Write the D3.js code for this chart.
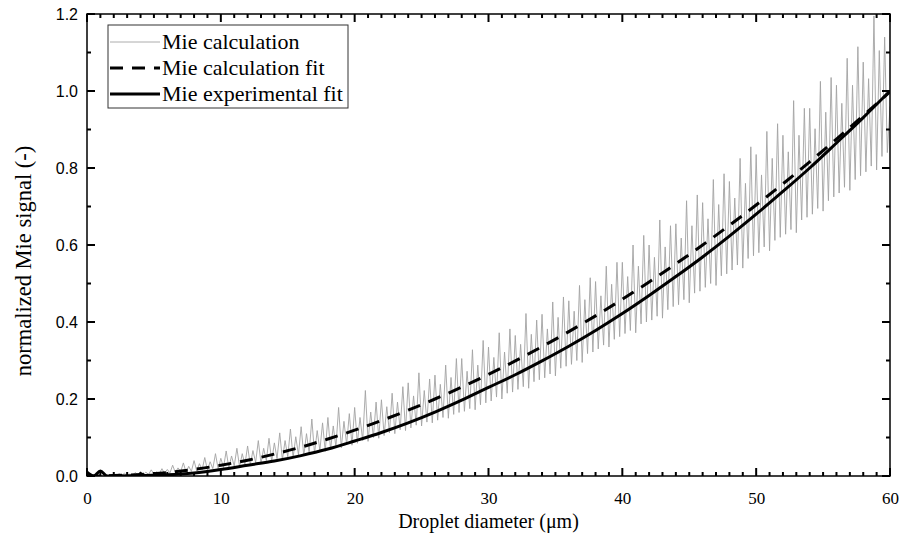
<!DOCTYPE html>
<html>
<head>
<meta charset="utf-8">
<script src="https://cdn.jsdelivr.net/npm/d3@7"></script>
<style>
  body { margin: 0; background: #fff; }
</style>
</head>
<body>
<div id="chart-area"></div>
<script>

// Mie calculation, sampled every 0.2 um from 0 to 60
var calcStep = 0.2
var mieCalc = [
  0.000, 0.002, 0.001, 0.003, 0.001, 0.002, 0.000, 0.003, 0.001, 0.002,
  0.004, 0.001, 0.006, 0.002, 0.007, 0.001, 0.005, 0.002, 0.009, 0.003,
  0.012, 0.003, 0.010, 0.004, 0.016, 0.005, 0.011, 0.006, 0.019, 0.006,
  0.017, 0.008, 0.028, 0.009, 0.021, 0.011, 0.034, 0.010, 0.025, 0.012,
  0.040, 0.013, 0.032, 0.016, 0.048, 0.015, 0.037, 0.019, 0.058, 0.018,
  0.046, 0.022, 0.065, 0.021, 0.052, 0.026, 0.072, 0.024, 0.058, 0.030,
  0.078, 0.029, 0.066, 0.035, 0.092, 0.033, 0.072, 0.040, 0.098, 0.038,
  0.086, 0.045, 0.112, 0.042, 0.092, 0.050, 0.122, 0.048, 0.102, 0.055,
  0.128, 0.052, 0.110, 0.060, 0.148, 0.058, 0.118, 0.066, 0.138, 0.064,
  0.152, 0.068, 0.130, 0.075, 0.178, 0.073, 0.142, 0.082, 0.162, 0.080,
  0.178, 0.085, 0.152, 0.092, 0.222, 0.090, 0.166, 0.100, 0.192, 0.098,
  0.198, 0.105, 0.180, 0.112, 0.215, 0.110, 0.192, 0.120, 0.232, 0.118,
  0.242, 0.125, 0.208, 0.132, 0.268, 0.130, 0.222, 0.140, 0.252, 0.138,
  0.262, 0.145, 0.238, 0.152, 0.288, 0.150, 0.256, 0.160, 0.305, 0.165,
  0.305, 0.168, 0.272, 0.175, 0.328, 0.172, 0.288, 0.185, 0.352, 0.190,
  0.335, 0.195, 0.308, 0.205, 0.372, 0.200, 0.322, 0.215, 0.382, 0.218,
  0.365, 0.225, 0.342, 0.232, 0.422, 0.228, 0.368, 0.245, 0.405, 0.250,
  0.420, 0.255, 0.382, 0.265, 0.452, 0.260, 0.412, 0.280, 0.465, 0.285,
  0.455, 0.290, 0.428, 0.300, 0.495, 0.295, 0.458, 0.318, 0.515, 0.322,
  0.505, 0.330, 0.468, 0.340, 0.545, 0.335, 0.498, 0.355, 0.555, 0.362,
  0.555, 0.370, 0.518, 0.378, 0.600, 0.372, 0.545, 0.395, 0.625, 0.400,
  0.600, 0.405, 0.568, 0.415, 0.665, 0.410, 0.595, 0.432, 0.650, 0.440,
  0.655, 0.445, 0.618, 0.458, 0.715, 0.450, 0.650, 0.475, 0.730, 0.480,
  0.710, 0.490, 0.668, 0.500, 0.770, 0.495, 0.705, 0.520, 0.785, 0.525,
  0.765, 0.535, 0.722, 0.548, 0.825, 0.540, 0.760, 0.565, 0.855, 0.572,
  0.835, 0.580, 0.782, 0.595, 0.895, 0.585, 0.825, 0.612, 0.915, 0.620,
  0.885, 0.628, 0.842, 0.640, 0.975, 0.632, 0.885, 0.665, 0.955, 0.672,
  0.955, 0.680, 0.902, 0.695, 1.025, 0.688, 0.945, 0.715, 1.035, 0.725,
  1.015, 0.735, 0.968, 0.750, 1.085, 0.742, 1.015, 0.770, 1.115, 0.780,
  1.075, 0.790, 1.032, 0.805, 1.195, 0.795, 1.105, 0.830, 1.140, 0.840,
  0.960
]

// Mie calculation fit, every 2 um
var calcFitD = [0, 2, 4, 6, 8, 10, 12, 14, 16, 18, 20, 22, 24, 26, 28, 30,
  32, 34, 36, 38, 40, 42, 44, 46, 48, 50, 52, 54, 56, 58, 60]
var calcFit = [0.000, 0.001, 0.004, 0.009, 0.017, 0.028, 0.041, 0.057, 0.075, 0.096,
  0.119, 0.144, 0.171, 0.200, 0.231, 0.264, 0.299, 0.336, 0.375, 0.416,
  0.459, 0.504, 0.551, 0.600, 0.651, 0.704, 0.759, 0.816, 0.875, 0.936, 0.998]

// Mie experimental fit
var expFitD = [0, 0.5, 1, 1.5, 2, 4, 6, 8, 10, 12, 14, 16, 18, 20, 22, 24, 26, 28, 30,
  32, 34, 36, 38, 40, 42, 44, 46, 48, 50, 52, 54, 56, 58, 60]
var expFit = [0.010, 0.000, 0.013, 0.000, 0.000, 0.001, 0.003, 0.008, 0.017, 0.028,
  0.039, 0.053, 0.070, 0.091, 0.113, 0.138, 0.166, 0.197, 0.230,
  0.263, 0.299, 0.337, 0.378, 0.422, 0.469, 0.518, 0.569, 0.623, 0.680,
  0.739, 0.800, 0.865, 0.931, 1.000]

var xTicks = [0, 10, 20, 30, 40, 50, 60]
var yTicks = [0.0, 0.2, 0.4, 0.6, 0.8, 1.0, 1.2]

var seriesNames = ["Mie calculation", "Mie calculation fit", "Mie experimental fit"]

var margin = { left: 87, top: 14, right: 10, bottom: 63 }
var width = 900 - margin.left - margin.right,
    height = 539 - margin.top - margin.bottom

var svg = d3.select("#chart-area").append("svg")
    .attr("width", 900)
    .attr("height", 539)

var g = svg.append("g")
    .attr("transform", "translate(" + margin.left + "," + margin.top + ")")

var x = d3.scaleLinear().domain([0, 60]).range([0, width])
var y = d3.scaleLinear().domain([0, 1.2]).range([height, 0])

svg.append("defs").append("clipPath")
    .attr("id", "plot-clip")
  .append("rect")
    .attr("width", width)
    .attr("height", height)

var plot = g.append("g").attr("clip-path", "url(#plot-clip)")

var line = d3.line()
    .x(function(d) { return x(d[0]) })
    .y(function(d) { return y(d[1]) })

var smooth = d3.line()
    .x(function(d) { return x(d[0]) })
    .y(function(d) { return y(d[1]) })
    .curve(d3.curveMonotoneX)

var calcPts = mieCalc.map(function(v, i) { return [i * calcStep, v] })
var calcFitPts = calcFit.map(function(v, i) { return [calcFitD[i], v] })
var expFitPts = expFit.map(function(v, i) { return [expFitD[i], v] })

plot.append("path")
    .attr("d", line(calcPts))
    .attr("fill", "none")
    .attr("stroke", "#a3a3a3")
    .attr("stroke-width", 0.9)

plot.append("path")
    .attr("d", smooth(calcFitPts))
    .attr("fill", "none")
    .attr("stroke", "#000")
    .attr("stroke-width", 3)
    .attr("stroke-dasharray", "13,9")

plot.append("path")
    .attr("d", smooth(expFitPts))
    .attr("fill", "none")
    .attr("stroke", "#000")
    .attr("stroke-width", 3)
    .attr("stroke-linejoin", "round")

var serif = "'Liberation Serif', 'Times New Roman', serif"
var sans = "'Liberation Sans', Arial, sans-serif"

// tick labels from the axis generators, tick marks drawn inward on all sides
var xAxisCall = d3.axisBottom(x).tickValues(xTicks).tickSize(0).tickPadding(16)
    .tickFormat(d3.format("d"))
var xAxis = g.append("g")
    .attr("transform", "translate(0," + height + ")")
    .call(xAxisCall)
xAxis.select(".domain").remove()
xAxis.selectAll("text")
    .style("font-family", serif)
    .style("font-size", "17px")
    .attr("fill", "#000")

var yAxisCall = d3.axisLeft(y).tickValues(yTicks).tickSize(0).tickPadding(9)
    .tickFormat(d3.format(".1f"))
var yAxis = g.append("g").call(yAxisCall)
yAxis.select(".domain").remove()
yAxis.selectAll("text")
    .style("font-family", sans)
    .style("font-size", "16px")
    .attr("fill", "#000")

var xMinor = d3.range(0, 61, 1).filter(function(d) { return d % 10 != 0 })
var yMinor = d3.range(1, 12, 2).map(function(d) { return d / 10 })

var tickG = g.append("g")
    .attr("stroke", "#000")
    .attr("stroke-width", 2)

function xTickMarks(values, len) {
  tickG.selectAll(null).data(values).enter().append("line")
      .attr("x1", function(d) { return x(d) })
      .attr("x2", function(d) { return x(d) })
      .attr("y1", height)
      .attr("y2", height - len)
  tickG.selectAll(null).data(values).enter().append("line")
      .attr("x1", function(d) { return x(d) })
      .attr("x2", function(d) { return x(d) })
      .attr("y1", 0)
      .attr("y2", len)
}

function yTickMarks(values, len) {
  tickG.selectAll(null).data(values).enter().append("line")
      .attr("y1", function(d) { return y(d) })
      .attr("y2", function(d) { return y(d) })
      .attr("x1", 0)
      .attr("x2", len)
  tickG.selectAll(null).data(values).enter().append("line")
      .attr("y1", function(d) { return y(d) })
      .attr("y2", function(d) { return y(d) })
      .attr("x1", width)
      .attr("x2", width - len)
}

xTickMarks(xTicks, 8)
xTickMarks(xMinor, 4)
yTickMarks(yTicks, 8)
yTickMarks(yMinor, 4)

g.append("rect")
    .attr("width", width)
    .attr("height", height)
    .attr("fill", "none")
    .attr("stroke", "#000")
    .attr("stroke-width", 1.5)

// axis titles
g.append("text")
    .attr("x", width / 2)
    .attr("y", height + 52)
    .attr("text-anchor", "middle")
    .style("font-family", serif)
    .style("font-size", "20px")
    .text("Droplet diameter (\u03bcm)")

g.append("text")
    .attr("transform", "rotate(-90)")
    .attr("x", -(height / 2) - 16)
    .attr("y", -56)
    .attr("text-anchor", "middle")
    .style("font-family", serif)
    .style("font-size", "22.5px")
    .text("normalized Mie signal (-)")

// legend
var legend = g.append("g").attr("transform", "translate(21,11)")

legend.append("rect")
    .attr("width", 240)
    .attr("height", 83)
    .attr("fill", "#fff")
    .attr("stroke", "#333")
    .attr("stroke-width", 1)

var legendStyles = [
  { stroke: "#a3a3a3", width: 0.9, dash: null },
  { stroke: "#000", width: 3, dash: "13,9" },
  { stroke: "#000", width: 3, dash: null }
]

seriesNames.forEach(function(name, i) {
  var yy = 17 + i * 26
  legend.append("line")
      .attr("x1", 2)
      .attr("x2", 52)
      .attr("y1", yy)
      .attr("y2", yy)
      .attr("stroke", legendStyles[i].stroke)
      .attr("stroke-width", legendStyles[i].width)
      .attr("stroke-dasharray", legendStyles[i].dash)
  legend.append("text")
      .attr("x", 54)
      .attr("y", yy + 7)
      .style("font-family", serif)
      .style("font-size", "22px")
      .text(name)
})

</script>
</body>
</html>
